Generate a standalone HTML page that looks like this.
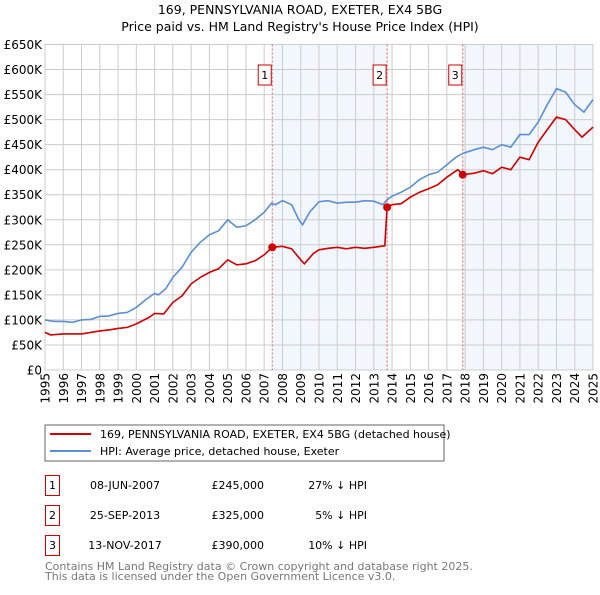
<!DOCTYPE html>
<html><head><meta charset="utf-8"><style>
body{margin:0;background:#fff;width:600px;height:590px;overflow:hidden;font-family:"Liberation Sans","DejaVu Sans",sans-serif}
svg text{font-family:"DejaVu Sans","Liberation Sans",sans-serif}
</style></head><body>
<svg id="c" width="600" height="590">
<text x="300" y="14" text-anchor="middle" font-size="12.5">169, PENNSYLVANIA ROAD, EXETER, EX4 5BG</text>
<text x="300" y="31" text-anchor="middle" font-size="12.5">Price paid vs. HM Land Registry's House Price Index (HPI)</text>
<g id="plot"></g>
<rect x="45" y="425" width="399" height="36" fill="#fff" stroke="#666"/>
<line x1="50" y1="434" x2="91" y2="434" stroke="#cc0000" stroke-width="2"/>
<text x="100" y="438" font-size="11">169, PENNSYLVANIA ROAD, EXETER, EX4 5BG (detached house)</text>
<line x1="50" y1="451" x2="91" y2="451" stroke="#5b8fd4" stroke-width="2"/>
<text x="100" y="455" font-size="11">HPI: Average price, detached house, Exeter</text>
<g id="tbl" font-size="11"></g>
<text x="45" y="570" font-size="11" fill="#777">Contains HM Land Registry data © Crown copyright and database right 2025.</text>
<text x="45" y="580" font-size="11" fill="#777">This data is licensed under the Open Government Licence v3.0.</text>
</svg>
<script>
const hpiYears=[1995,1995.5,1996,1996.5,1997,1997.5,1998,1998.5,1999,1999.5,2000,2000.5,2001,2001.2,2001.6,2002,2002.5,2003,2003.5,2004,2004.5,2005,2005.5,2006,2006.5,2007,2007.4,2007.6,2008,2008.5,2008.9,2009.1,2009.5,2010,2010.5,2011,2011.5,2012,2012.5,2013,2013.5,2013.73,2014,2014.5,2015,2015.5,2016,2016.5,2017,2017.5,2017.9,2018.5,2019,2019.5,2020,2020.5,2021,2021.5,2022,2022.5,2023,2023.5,2024,2024.5,2025];
const hpiVals=[100,97,97,95,100,101,107,108,113,115,125,140,153,150,162,185,205,235,255,270,278,300,285,288,300,315,333,330,338,330,300,290,316,336,338,333,335,335,338,337,330,340,347,355,365,380,390,395,410,425,433,440,445,440,450,445,470,470,495,530,562,555,530,515,540];
const ppYears=[1995,1995.3,1996,1996.5,1997,1997.5,1998,1998.5,1999,1999.5,2000,2000.7,2001,2001.5,2002,2002.5,2003,2003.5,2004,2004.5,2005,2005.5,2006,2006.5,2007,2007.44,2008,2008.5,2009,2009.2,2009.7,2010,2010.5,2011,2011.5,2012,2012.5,2013,2013.6,2013.73,2014,2014.5,2015,2015.5,2016,2016.5,2017,2017.6,2017.87,2018.5,2019,2019.5,2020,2020.5,2021,2021.5,2022,2022.5,2023,2023.5,2024,2024.4,2025];
const ppVals=[75,70,72,72,72,75,78,80,83,85,92,105,113,112,135,148,172,185,195,202,220,210,212,218,230,245,247,242,220,212,233,240,243,245,242,245,243,245,248,325,330,332,345,355,362,370,385,400,390,393,398,392,405,400,425,420,455,480,505,500,480,465,485];
const saleYears=[2007.44,2013.73,2017.87];
const saleVals=[245,325,390];
const saleDates=["08-JUN-2007","25-SEP-2013","13-NOV-2017"];
const salePrices=["£245,000","£325,000","£390,000"];
const saleDiffs=["27% ↓ HPI","5% ↓ HPI","10% ↓ HPI"];
const yTicks=[0,50,100,150,200,250,300,350,400,450,500,550,600,650];
const yLabels=["£0","£50K","£100K","£150K","£200K","£250K","£300K","£350K","£400K","£450K","£500K","£550K","£600K","£650K"];
const xTicks=[1995,1996,1997,1998,1999,2000,2001,2002,2003,2004,2005,2006,2007,2008,2009,2010,2011,2012,2013,2014,2015,2016,2017,2018,2019,2020,2021,2022,2023,2024,2025];

const NS="http://www.w3.org/2000/svg";
const X0=45,X1=593,Y0=370,Y1=44.5;
const xs=y=>X0+(y-1995)/30*(X1-X0);
const ys=v=>Y0-v/650*(Y0-Y1);
const g=document.getElementById('plot');
function mk(t,a,p){const e=document.createElementNS(NS,t);for(const k in a)e.setAttribute(k,a[k]);(p||g).appendChild(e);return e;}
let e;
e=mk('rect',{x:xs(saleYears[0]),y:Y1,width:xs(saleYears[1])-xs(saleYears[0]),height:Y0-Y1,fill:'#f2f6fd'});


e=mk('rect',{x:xs(saleYears[2]),y:Y1,width:X1-xs(saleYears[2]),height:Y0-Y1,fill:'#f2f6fd'});


yTicks.forEach((v,i)=>{
 e=mk('line',{x1:X0,x2:X1,y1:ys(v),y2:ys(v),stroke:'#ccc'});
 
 
 e=mk('text',{x:42,y:ys(v)+4.5,'text-anchor':'end','font-size':'12'});e.textContent=yLabels[i];
 
 
});
xTicks.forEach(y=>{
 e=mk('line',{x1:xs(y),x2:xs(y),y1:Y1,y2:Y0,stroke:'#ccc'});
 
 
 e=mk('text',{x:0,y:0,'font-size':'12','text-anchor':'end',transform:`translate(${xs(y)+4.5},373) rotate(-90)`});e.textContent=y;
 
 
});
e=mk('rect',{x:X0,y:Y1,width:X1-X0,height:Y0-Y1,fill:'none',stroke:'#ccc'});


saleYears.forEach((y,i)=>{
 e=mk('line',{x1:xs(y),x2:xs(y),y1:Y1,y2:Y0,stroke:'#e06060','stroke-dasharray':'2,2'});
 
 
 e=mk('rect',{x:xs(y)-14,y:65,width:13,height:20,fill:'#fff',stroke:'#cc0000'});
 
 
 e=mk('text',{x:xs(y)-7.5,y:79,'text-anchor':'middle','font-size':'11'});e.textContent=i+1;
 
 
});
function path(xa,va,col,name){
 const d=xa.map((y,i)=>(i?'L':'M')+xs(y).toFixed(1)+','+ys(va[i]).toFixed(1)).join('');
 e=mk('path',{d:d,fill:'none',stroke:col,'stroke-width':1.6});
 
 
}
path(hpiYears,hpiVals,'#5b8fd4','hpi-line');
path(ppYears,ppVals,'#cc0000','price-paid-line');
saleYears.forEach((y,i)=>{
 e=mk('circle',{cx:xs(y),cy:ys(saleVals[i]),r:4,fill:'#cc0000'});
 
 
});
const t=document.getElementById('tbl');
saleDates.forEach((d,i)=>{
 const yy=475+i*30;
 e=mk('rect',{x:45.5,y:yy+0.5,width:14,height:20,fill:'#fff',stroke:'#cc0000'},t);
 
 
 e=mk('text',{x:52.5,y:yy+14,'text-anchor':'middle'},t);e.textContent=i+1;
 
 
 e=mk('text',{x:125,y:yy+14,'text-anchor':'middle'},t);e.textContent=d;
 
 
 e=mk('text',{x:264,y:yy+14,'text-anchor':'end'},t);e.textContent=salePrices[i];
 
 
 e=mk('text',{x:367,y:yy+14,'text-anchor':'end'},t);e.textContent=saleDiffs[i];
 
 
});
</script>
</body></html>
